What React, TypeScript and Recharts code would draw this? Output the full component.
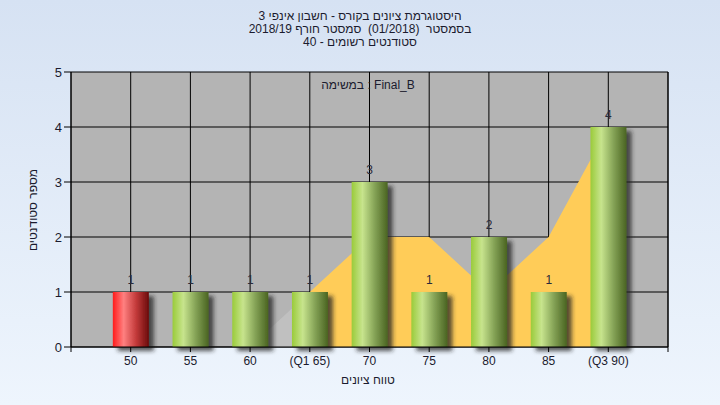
import React from 'react';
import {
  ComposedChart,
  Bar,
  Area,
  XAxis,
  YAxis,
  CartesianGrid,
  LabelList,
  Cell
} from 'recharts';

const scores = [50, 55, 60, 65, 70, 75, 80, 85, 90];
const tickLabels = ['50', '55', '60', '(Q1 65)', '70', '75', '80', '85', '(Q3 90)'];
const studentCounts = [1, 1, 1, 1, 3, 1, 2, 1, 4];
// background area (light gray up to Q1, orange from Q1 to Q3)
const trendValues = [0, 0, 0, 1, 2, 2, 1, 2, 4];
const q1Score = 65;
const q3Score = 90;
const failScore = 50;
const yTicks = [0, 1, 2, 3, 4, 5];

const titleLines = [
  'היסטוגרמת ציונים בקורס - חשבון אינפי 3',
  'בסמסטר  (01/2018)  סמסטר חורף 2018/19',
  'סטודנטים רשומים - 40'
];

const data = scores.map((score, i) => ({
  score,
  count: studentCounts[i],
  lowTrend: score <= q1Score ? trendValues[i] : null,
  highTrend: score >= q1Score && score <= q3Score ? trendValues[i] : null
}));

const xTicks = [45, ...scores, 95];
const font = 'Arial, "Liberation Sans", "DejaVu Sans", sans-serif';
const textColor = '#1b1b2e';

const formatTick = (v: number) => {
  const i = scores.indexOf(v);
  return i >= 0 ? tickLabels[i] : '';
};

const App: React.FC = () => {
  return (
    <div
      style={{
        position: 'absolute',
        top: 0,
        left: 0,
        width: 720,
        height: 405,
        background: 'linear-gradient(180deg, #d6e2f3 0%, #eef5fd 100%)',
        fontFamily: font,
        overflow: 'hidden'
      }}
    >
      <div
        dir="rtl"
        style={{
          position: 'absolute',
          top: 10,
          left: 0,
          width: 720,
          textAlign: 'center',
          fontSize: 12,
          lineHeight: '13px',
          color: textColor,
          whiteSpace: 'pre'
        }}
      >
        {titleLines.map((line) => (
          <div key={line}>{line}</div>
        ))}
      </div>

      <ComposedChart
        width={720}
        height={405}
        data={data}
        margin={{ top: 72, right: 0, bottom: 28, left: 0 }}
        style={{ position: 'absolute', top: 0, left: 0 }}
      >
        <defs>
          <linearGradient id="greenBar" x1="0" y1="0" x2="1" y2="0">
            <stop offset="0%" stopColor="#9acb3a" />
            <stop offset="30%" stopColor="#c7e48d" />
            <stop offset="65%" stopColor="#83a155" />
            <stop offset="100%" stopColor="#4a6421" />
          </linearGradient>
          <linearGradient id="redBar" x1="0" y1="0" x2="1" y2="0">
            <stop offset="0%" stopColor="#ff1c1c" />
            <stop offset="30%" stopColor="#ff8080" />
            <stop offset="65%" stopColor="#c23a3a" />
            <stop offset="100%" stopColor="#6a0a0a" />
          </linearGradient>
          <filter id="barShadow" x="-30%" y="-10%" width="160%" height="130%">
            <feDropShadow dx="5" dy="4" stdDeviation="2" floodColor="#222" floodOpacity="0.75" />
          </filter>
        </defs>
        <CartesianGrid fill="#b4b4b4" stroke="#000" strokeOpacity={1} />
        <XAxis
          dataKey="score"
          type="number"
          domain={[45, 95]}
          ticks={xTicks}
          interval={0}
          tickFormatter={formatTick}
          height={30}
          tickSize={5}
          tickMargin={4}
          stroke="#000"
          tick={{ fill: textColor, fontSize: 12 }}
        />
        <YAxis
          domain={[0, 5]}
          ticks={yTicks}
          width={71}
          tickSize={7}
          tickMargin={2}
          stroke="#000"
          tick={{ fill: textColor, fontSize: 13 }}
        />
        <YAxis
          yAxisId="right"
          orientation="right"
          domain={[0, 5]}
          ticks={yTicks}
          width={52}
          tickSize={8}
          tickMargin={2}
          stroke="#000"
          tick={{ fill: textColor, fontSize: 13 }}
        />
        <Area
          dataKey="lowTrend"
          type="linear"
          stroke="none"
          fill="#c0c0c0"
          fillOpacity={1}
          dot={false}
          activeDot={false}
          isAnimationActive={false}
        />
        <Area
          dataKey="highTrend"
          type="linear"
          stroke="none"
          fill="#ffcc58"
          fillOpacity={1}
          dot={false}
          activeDot={false}
          isAnimationActive={false}
        />
        <Bar
          dataKey="count"
          barSize={36}
          filter="url(#barShadow)"
          isAnimationActive={false}
        >
          {data.map((d) => (
            <Cell key={d.score} fill={d.score <= failScore ? 'url(#redBar)' : 'url(#greenBar)'} />
          ))}
          <LabelList dataKey="count" position="top" offset={8} fill="#2a2a3a" fontSize={12} />
        </Bar>
      </ComposedChart>

      <div
        style={{
          position: 'absolute',
          top: 78,
          left: 268,
          width: 200,
          textAlign: 'center',
          fontSize: 12,
          color: textColor
        }}
      >
        במשימה : Final_B
      </div>

      <div
        style={{
          position: 'absolute',
          left: 33,
          top: 210,
          transform: 'translate(-50%, -50%) rotate(-90deg)',
          fontSize: 12,
          color: textColor,
          whiteSpace: 'nowrap'
        }}
      >
        מספר סטודנטים
      </div>

      <div
        style={{
          position: 'absolute',
          top: 373,
          left: 268,
          width: 200,
          textAlign: 'center',
          fontSize: 12,
          color: textColor
        }}
      >
        טווח ציונים
      </div>
    </div>
  );
};

export default App;
